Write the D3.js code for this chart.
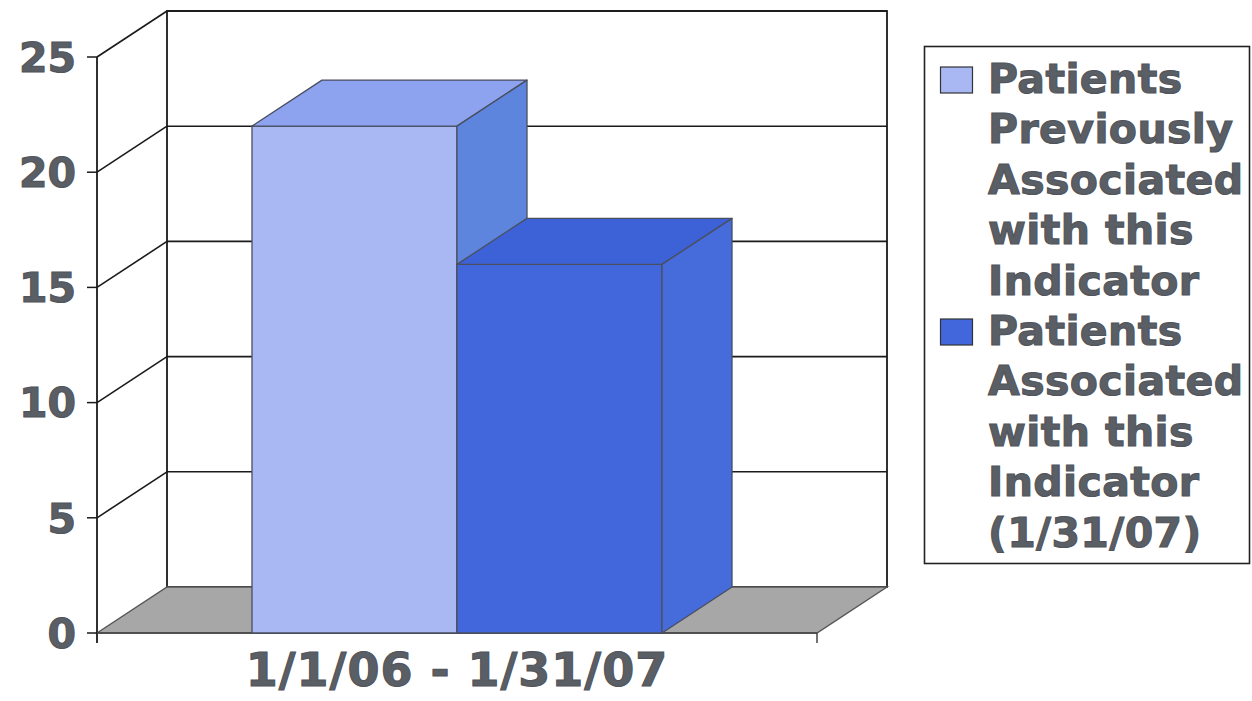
<!DOCTYPE html>
<html>
<head>
<meta charset="utf-8">
<script src="https://cdn.jsdelivr.net/npm/d3@7"></script>
<style>
  body { margin: 0; background: #fff; }
  text { font-family: "DejaVu Sans", Verdana, sans-serif; font-weight: bold; fill: #5a5e65;
         stroke: #50545b; stroke-width: 1.1px; }
</style>
</head>
<body>
<svg class="chart" width="1252" height="701"></svg>
<script>
// data
var categories = ["1/1/06 - 1/31/07"];
var seriesNames = [
  ["Patients", "Previously", "Associated", "with this", "Indicator"],
  ["Patients", "Associated", "with this", "Indicator", "(1/31/07)"]
];
var previousValues = [22];
var currentValues = [16];
var yTicks = [0, 5, 10, 15, 20, 25];

var faceColors = [
  {front: "#a9b7f3", top: "#8ea3ef", side: "#5d85dd"},
  {front: "#4267dc", top: "#3d62d8", side: "#466bdb"}
];

var svg = d3.select(".chart"),
    plot = {left: 97, right: 817, top: 57, bottom: 633},
    depth = {dx: 70, dy: -46};

var y = d3.scaleLinear()
    .domain([0, 25])
    .range([plot.bottom, plot.top]);

var x = d3.scaleBand()
    .domain(categories)
    .range([plot.left, plot.right])
    .paddingInner(0)
    .paddingOuter(0.378);

var xSeries = d3.scaleBand()
    .domain([0, 1])
    .range([0, x.bandwidth()]);

function pts(a) { return a.map(function(p) { return p.join(","); }).join(" "); }

var g = svg.append("g");

// back wall
g.append("rect")
    .attr("x", plot.left + depth.dx)
    .attr("y", plot.top + depth.dy)
    .attr("width", plot.right - plot.left)
    .attr("height", plot.bottom - plot.top)
    .attr("fill", "#fff")
    .attr("stroke", "#1a1a1a")
    .attr("stroke-width", 1.8);

// gridlines on back wall and side wall
yTicks.filter(function(d) { return d > 0; }).forEach(function(t) {
  g.append("line")
      .attr("x1", plot.left + depth.dx).attr("x2", plot.right + depth.dx)
      .attr("y1", y(t) + depth.dy).attr("y2", y(t) + depth.dy)
      .attr("stroke", "#1a1a1a").attr("stroke-width", 1.6);
  g.append("line")
      .attr("x1", plot.left).attr("x2", plot.left + depth.dx)
      .attr("y1", y(t)).attr("y2", y(t) + depth.dy)
      .attr("stroke", "#1a1a1a").attr("stroke-width", 1.6);
});

// floor
g.append("polygon")
    .attr("points", pts([
      [plot.left, y(0)], [plot.right, y(0)],
      [plot.right + depth.dx, y(0) + depth.dy], [plot.left + depth.dx, y(0) + depth.dy]
    ]))
    .attr("fill", "#a7a7a7")
    .attr("stroke", "#555")
    .attr("stroke-width", 1.4);

// y axis line and ticks
g.append("line")
    .attr("x1", plot.left).attr("x2", plot.left)
    .attr("y1", y(25)).attr("y2", y(0) + 10)
    .attr("stroke", "#1a1a1a").attr("stroke-width", 1.8);

yTicks.forEach(function(t) {
  g.append("line")
      .attr("x1", plot.left - 10).attr("x2", plot.left)
      .attr("y1", y(t)).attr("y2", y(t))
      .attr("stroke", "#1a1a1a").attr("stroke-width", 1.5);
  g.append("text")
      .attr("x", plot.left - 21)
      .attr("y", y(t))
      .attr("dy", "0.36em")
      .attr("text-anchor", "end")
      .style("font-size", "41px")
      .text(t);
});

// x axis ticks
g.append("line")
    .attr("x1", plot.left).attr("x2", plot.right)
    .attr("y1", y(0)).attr("y2", y(0))
    .attr("stroke", "#444").attr("stroke-width", 1.6);
g.append("line")
    .attr("x1", plot.right).attr("x2", plot.right)
    .attr("y1", y(0)).attr("y2", y(0) + 10)
    .attr("stroke", "#444").attr("stroke-width", 1.5);

// bars
var bars = [];
categories.forEach(function(c, i) {
  bars.push({cat: c, s: 0, v: previousValues[i]});
  bars.push({cat: c, s: 1, v: currentValues[i]});
});

bars.forEach(function(d) {
  var x0 = x(d.cat) + xSeries(d.s),
      x1 = x0 + xSeries.bandwidth(),
      yv = y(d.v),
      y0 = y(0),
      col = faceColors[d.s],
      bar = g.append("g")
          .attr("stroke", "#4a4f60")
          .attr("stroke-width", 1.3)
          .attr("stroke-linejoin", "round");

  bar.append("polygon")
      .attr("points", pts([[x0, y0], [x1, y0], [x1, yv], [x0, yv]]))
      .attr("fill", col.front);
  bar.append("polygon")
      .attr("points", pts([[x0, yv], [x1, yv], [x1 + depth.dx, yv + depth.dy], [x0 + depth.dx, yv + depth.dy]]))
      .attr("fill", col.top);
  bar.append("polygon")
      .attr("points", pts([[x1, yv], [x1 + depth.dx, yv + depth.dy], [x1 + depth.dx, y0 + depth.dy], [x1, y0]]))
      .attr("fill", col.side);
});

// category label
g.selectAll(".cat")
  .data(categories)
  .enter().append("text")
    .attr("class", "cat")
    .attr("x", function(d) { return x(d) + x.bandwidth() / 2; })
    .attr("y", 686)
    .attr("text-anchor", "middle")
    .style("font-size", "46px")
    .style("letter-spacing", "1px")
    .text(function(d) { return d; });

// legend
var legend = svg.append("g");
legend.append("rect")
    .attr("x", 924.5).attr("y", 46.5)
    .attr("width", 325).attr("height", 517)
    .attr("fill", "#fff")
    .attr("stroke", "#222")
    .attr("stroke-width", 1.6);

seriesNames.forEach(function(lines, i) {
  var base = 93 + i * 252;
  legend.append("rect")
      .attr("x", 940.5).attr("y", base - 26)
      .attr("width", 32).attr("height", 26)
      .attr("fill", faceColors[i].front)
      .attr("stroke", "#333")
      .attr("stroke-width", 1.2);
  lines.forEach(function(l, j) {
    legend.append("text")
        .attr("x", 988)
        .attr("y", base + j * 50.4)
        .style("font-size", "41px")
        .style("letter-spacing", "0.4px")
        .text(l);
  });
});
</script>
</body>
</html>
